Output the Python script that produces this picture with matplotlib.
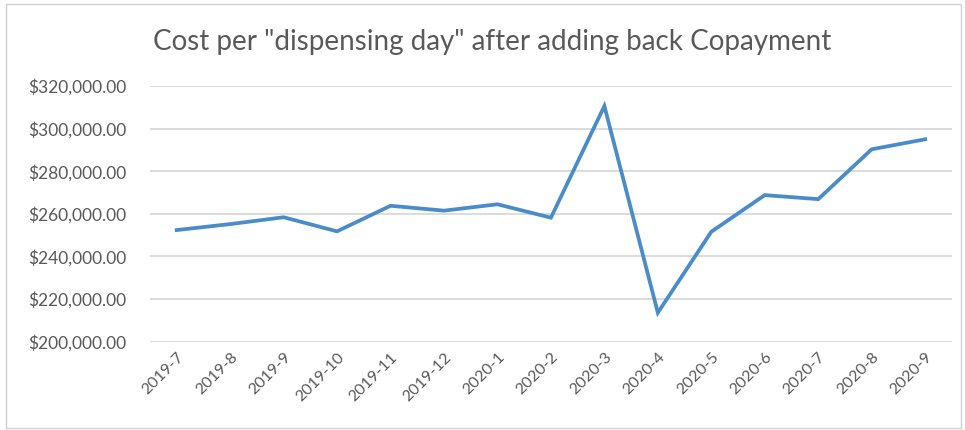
import matplotlib.pyplot as plt
from matplotlib.patches import Rectangle
from matplotlib.ticker import FuncFormatter

# monthly cost per dispensing day
months = ['2019-7', '2019-8', '2019-9', '2019-10', '2019-11', '2019-12',
          '2020-1', '2020-2', '2020-3', '2020-4', '2020-5', '2020-6',
          '2020-7', '2020-8', '2020-9']
cost = [252400, 255200, 258400, 251800, 263800, 261500,
        264500, 258200, 310600, 213600, 251600, 268800,
        266900, 290300, 295000]
y_ticks = [200000, 220000, 240000, 260000, 280000, 300000, 320000]

plt.rcParams['font.family'] = ['Lato', 'DejaVu Sans']

fig = plt.figure(figsize=(9.65, 4.3), dpi=100)
ax = fig.add_axes([0.1554, 0.2053, 0.831, 0.5947])

x = list(range(len(months)))
ax.plot(x, cost, color='#4a8bca', lw=2.7, solid_joinstyle='miter')

ax.set_xlim(-0.5, len(months) - 0.5)
ax.set_ylim(y_ticks[0], y_ticks[-1])
ax.set_yticks(y_ticks)
ax.yaxis.set_major_formatter(FuncFormatter(lambda v, p: f'${v:,.2f}'))
ax.set_xticks(x)
ax.set_xticklabels(months, rotation=45, ha='right', rotation_mode='anchor')

ax.grid(axis='y', color='#d9d9d9', lw=1.3)
ax.set_axisbelow(True)
for s in ax.spines.values():
    s.set_visible(False)
ax.tick_params(length=0, colors='#595959')
ax.tick_params(axis='y', pad=17, labelsize=12.5)
ax.tick_params(axis='x', pad=6, labelsize=11.5)

fig.text(0.51, 0.902, 'Cost per "dispensing day" after adding back Copayment',
         ha='center', va='center', fontsize=20, color='#595959')

# light frame around the chart
fig.patches.append(Rectangle((0.006, 0.005), 0.99, 0.985, transform=fig.transFigure,
                             fill=False, edgecolor='#d0d0d0', lw=1.0))

fig.savefig('out.png', dpi=100)
